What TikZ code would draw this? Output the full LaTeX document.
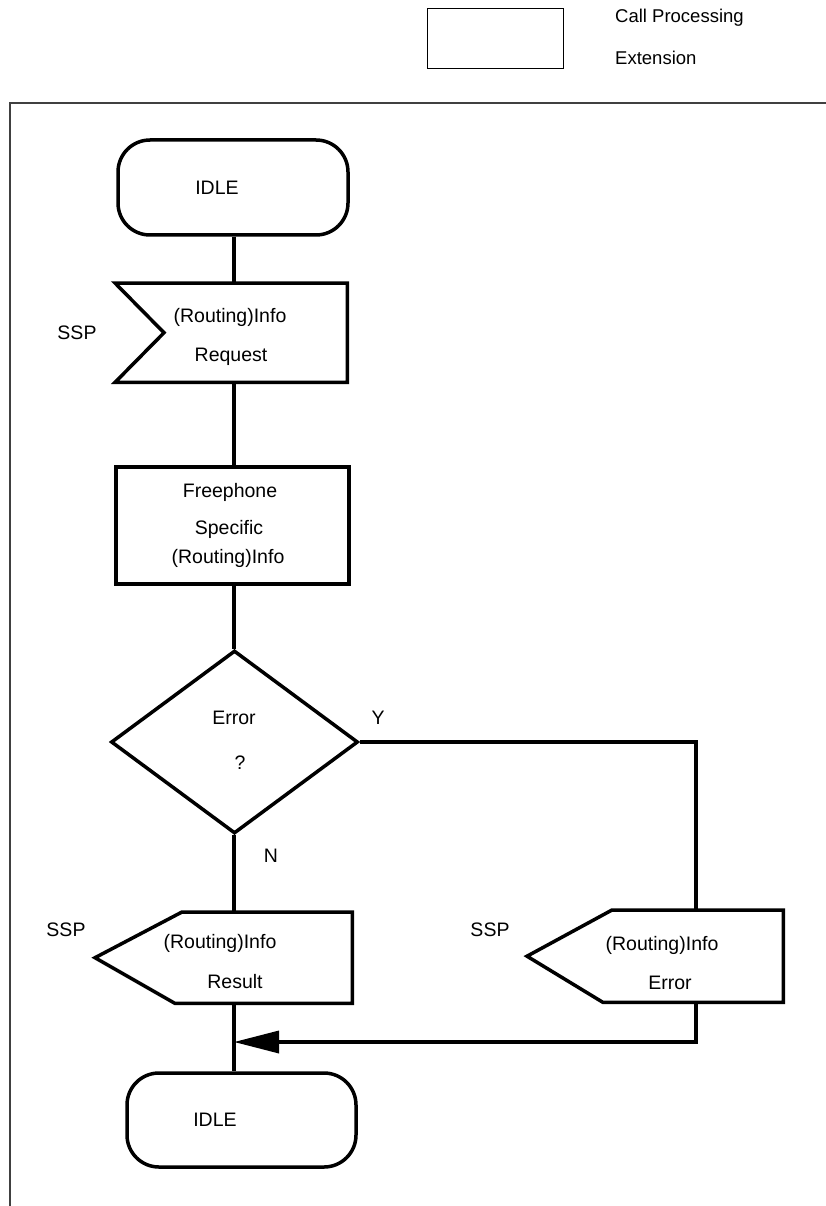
\documentclass[tikz,border=0pt]{standalone}
\usepackage{fontspec}
\setmainfont{Liberation Sans}
\usetikzlibrary{shapes.geometric,arrows.meta,calc}
\begin{document}
\begin{tikzpicture}[x=1pt,y=-1pt,
  txt/.style={inner sep=0pt,font=\fontsize{19.5}{23}\selectfont},
  legtxt/.style={inner sep=0pt,anchor=west,font=\fontsize{18.5}{22}\selectfont},
  holder/.style={draw=none,inner sep=0pt,anchor=north west},
  shp/.style={line width=3.5pt,line join=miter},
  conn/.style={line width=3.5pt},
  idlebox/.style={draw,line width=3.5pt,rectangle,rounded corners=32pt,inner sep=0pt},
]
\useasboundingbox (0,0) rectangle (826,1206);
% legend
\node[draw,line width=0.9pt,inner sep=0pt,minimum width=136pt,minimum height=60pt,anchor=north west] (legend) at (427,8) {};
\node[legtxt] (leg1) at (615,18) {Call Processing};
\node[legtxt] (leg2) at (615,58) {Extension};
% frame
\draw[line width=1.2pt,black!75] (826,103) -- (10,103) -- (10,1206);
% spine coordinates
\coordinate (spine) at (234,0);
\coordinate (yline) at (696,0);
% top idle
\node[idlebox,minimum width=230pt,minimum height=95pt] (idle1) at (233,187.5) {};
\node[txt] (idle1t) at (217,188) {IDLE};
% request (input signal)
\node[holder,minimum width=232pt,minimum height=99pt] (req) at (115,283) {};
\draw[shp] (req.north west) -- (req.north east) -- (req.south east) -- (req.south west) -- ($(req.west)+(49,0)$) -- cycle;
\node[txt] (ssp1) at (77,333) {SSP};
\node[txt] (req1) at (230,317) {(Routing)Info};
\node[txt] (req2) at (231,357) {Request};
% freephone task box
\node[draw,line width=3.5pt,inner sep=0pt,minimum width=233pt,minimum height=117pt,anchor=north west] (free) at (114,465) {};
\node[txt] (free1) at (230,492) {Freephone};
\node[txt] (free2) at (229,529) {Specific};
\node[txt] (free3) at (228,558) {(Routing)Info};
% decision
\node[diamond,draw,line width=3.5pt,inner sep=0pt,minimum width=247pt,minimum height=183pt] (dec) at (234.5,742) {};
\node[txt] (dec1) at (234,718) {Error};
\node[txt] (dec2) at (240,763) {?};
\node[txt] (ylab) at (378,718) {Y};
\node[txt] (nlab) at (271,856) {N};
% result (output signal)
\node[holder,minimum width=257pt,minimum height=91pt] (res) at (95,912) {};
\draw[shp] ($(res.north west)+(87,0)$) -- (res.north east) -- (res.south east) -- ($(res.south west)+(80,0)$) -- (res.west) -- cycle;
\node[txt] (ssp2) at (66,930) {SSP};
\node[txt] (res1) at (220,943) {(Routing)Info};
\node[txt] (res2) at (235,982) {Result};
% error (output signal)
\node[holder,minimum width=256pt,minimum height=92pt] (err) at (527,910) {};
\draw[shp] ($(err.north west)+(85,0)$) -- (err.north east) -- (err.south east) -- ($(err.south west)+(76,0)$) -- (err.west) -- cycle;
\node[txt] (ssp3) at (490,930) {SSP};
\node[txt] (err1) at (662,945) {(Routing)Info};
\node[txt] (err2) at (670,983) {Error};
% bottom idle
\node[idlebox,minimum width=229pt,minimum height=94pt] (idle2) at (241.5,1120) {};
\node[txt] (idle2t) at (215,1120) {IDLE};
% connectors
\coordinate (join) at (234,1042);
\draw[conn] (idle1.south -| spine) -- (req.north -| spine);
\draw[conn] (req.south -| spine) -- (free.north -| spine);
\draw[conn] (free.south -| spine) -- (dec.north -| spine);
\draw[conn] (dec.south -| spine) -- (res.north -| spine);
\draw[conn] (res.south -| spine) -- (idle2.north -| spine);
\draw[conn,line join=miter] (dec.east) -- (dec.east -| yline) -- (err.north -| yline);
\draw[conn,line join=miter,-{Triangle[length=45pt,width=22pt]}] (err.south -| yline) -- (join -| yline) -- (join);
\end{tikzpicture}
\end{document}
